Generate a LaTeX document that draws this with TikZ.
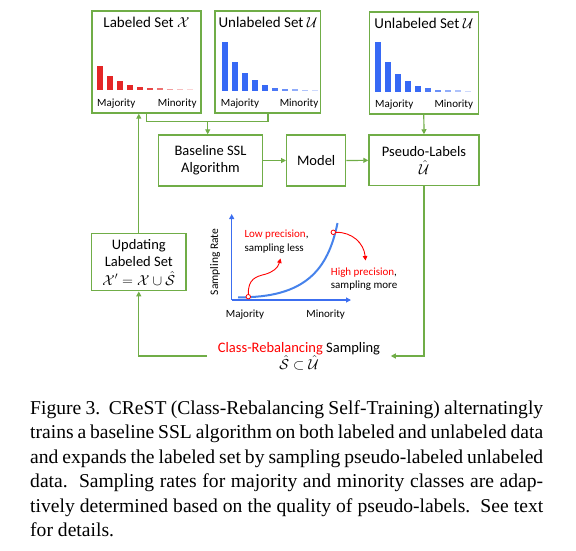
\documentclass[tikz,border=0pt]{standalone}
\usepackage{fontspec}
\setmainfont{Carlito}
\newfontfamily\capfont{Liberation Serif}
\usetikzlibrary{arrows.meta}
\definecolor{boxgreen}{RGB}{112,173,71}
\definecolor{barred}{RGB}{228,38,38}
\definecolor{barblue}{RGB}{55,105,245}
\definecolor{curveblue}{RGB}{70,130,235}
\definecolor{axisblue}{RGB}{60,110,240}
\begin{document}
\begin{tikzpicture}[x=1pt,y=-1pt,
  box/.style={draw=boxgreen,line width=1.4pt,inner sep=0pt},
  boxtext/.style={align=center,font=\fontsize{14.5}{17}\selectfont},
  garrow/.style={draw=boxgreen,line width=1.2pt,-{Triangle[length=5pt,width=5pt]}},
  gline/.style={draw=boxgreen,line width=1.2pt},
  ttl/.style={anchor=base,inner sep=0pt,font=\fontsize{15}{18}\selectfont},
  small/.style={inner sep=0pt,font=\fontsize{11}{13}\selectfont},
  axisline/.style={draw=axisblue,line width=1.1pt,-{Triangle[length=5pt,width=5pt]}},
  redarrow/.style={draw=red,line width=0.9pt,-{Triangle[length=4.5pt,width=4.5pt]}},
  dot/.style={circle,draw=red,fill=white,inner sep=0pt,minimum size=4.5pt,line width=0.8pt}]
\useasboundingbox (0,0) rectangle (576,550);

% ---- histogram boxes ----
\node[box,minimum width=109pt,minimum height=102pt] (lab) at (146.5,62) {};
\node[box,minimum width=105.7pt,minimum height=102pt] (unl) at (267.9,62) {};
\node[box,minimum width=109pt,minimum height=102pt] (unr) at (423.8,63) {};

\node[ttl] (labt) at (146.5,27) {Labeled Set $\mathcal{X}$};
\node[ttl] (unlt) at (267.9,27) {Unlabeled Set $\mathcal{U}$};
\node[ttl] (unrt) at (423.8,28) {Unlabeled Set $\mathcal{U}$};

\node[small,anchor=base west] (labmaj) at (97,106) {Majority};
\node[small,anchor=base east] (labmin) at (196.7,106) {Minority};
\node[small,anchor=base west] (unlmaj) at (220.7,106) {Majority};
\node[small,anchor=base east] (unlmin) at (318.5,106) {Minority};
\node[small,anchor=base west] (unrmaj) at (375,107) {Majority};
\node[small,anchor=base east] (unrmin) at (473.3,107) {Minority};

% bars
\foreach \h/\o [count=\i from 0] in {24.5/1,14.5/1,9/1,5/1,3/0.95,2.2/0.85,1.6/0.65,1.3/0.45,1.2/0.3,1.2/0.2}{
  \fill[barred,opacity=\o] (97.3+10*\i,90) rectangle ++(6,-\h);
}
\foreach \h/\o [count=\i from 0] in {49.3/1,29.3/1,17.7/1,10.8/1,6.2/1,3.4/0.9,2.2/0.75,1.6/0.55,1.3/0.4,1.2/0.25}{
  \fill[barblue,opacity=\o] (221.7+10*\i,91) rectangle ++(6,-\h);
  \fill[barblue,opacity=\o] (375+10*\i,91.7) rectangle ++(6,-\h);
}

% ---- middle row ----
\node[box,boxtext,minimum width=104.4pt,minimum height=51pt] (base) at (210.5,160.5) {Baseline SSL\\Algorithm};
\node[box,boxtext,minimum width=59pt,minimum height=51pt] (model) at (316.2,160.5) {Model};
\node[box,boxtext,minimum width=110pt,minimum height=50.7pt] (pseudo) at (424,160.3) {Pseudo-Labels\\[1pt]$\hat{\mathcal{U}}$};

% ---- updating box ----
\node[box,boxtext,font=\fontsize{14.5}{17.5}\selectfont,minimum width=94.3pt,minimum height=57.4pt] (upd) at (138.8,262) {Updating\\Labeled Set\\[1pt]$\mathcal{X}'=\mathcal{X}\cup\hat{\mathcal{S}}$};

% ---- sampling text ----
\node[align=center,inner xsep=10.5pt,inner ysep=0pt,font=\fontsize{14.5}{16.5}\selectfont] (crs) at (299,356) {\textcolor{red}{Class-Rebalancing} Sampling\\[1pt]$\hat{\mathcal{S}}\subset\hat{\mathcal{U}}$};

% ---- connectors ----
\coordinate (join) at (207.7,121.7);
\draw[gline] (lab.south) -- (lab.south |- join) -- (unl.south |- join) -- (unl.south);
\draw[garrow] (join) -- (join |- base.north);
\draw[garrow] (unr.south) -- (pseudo.north);
\draw[garrow] (base.east) -- (model.west);
\draw[garrow] (model.east) -- (pseudo.west);
\draw[garrow] (pseudo.south) -- (pseudo.south |- crs.east) -- (crs.east);
\draw[garrow] (crs.west) -- (upd.south |- crs.west) -- (upd.south);
\draw[garrow] (upd.north) -- (upd.north |- lab.south);

% ---- chart ----
\coordinate (orig) at (231.7,300);
\coordinate (ytop) at (231.7,214);
\coordinate (xend) at (351,300);
\draw[axisline] (orig) -- (ytop);
\draw[axisline] (orig) -- (xend);
\node[small,rotate=90,font=\fontsize{11.5}{13}\selectfont] (srate) at (215,262) {Sampling Rate};
\node[small,anchor=base] (cmaj) at (245,317.7) {Majority};
\node[small,anchor=base] (cmin) at (325.7,317.7) {Minority};

\coordinate (cs) at (238,297.3);
\coordinate (ce) at (337.5,223);
\draw[curveblue,line width=2pt] (cs) .. controls (305,298) and (328,270) .. (ce);

\node[dot] (lowc) at (248.3,296.7) {};
\node[dot] (highc) at (333.3,232.3) {};
\coordinate (lowend) at (280.5,258.5);
\coordinate (highend) at (365.5,260.5);
\draw[redarrow] (lowc.north) .. controls (248,279) and (256,276.5) .. (265,274.3) .. controls (273,272) and (278,268) .. (lowend);
\draw[redarrow] (highc.east) .. controls (352,232) and (364,243) .. (highend);

\node[small,anchor=base west] (lowt1) at (244.3,237.7) {\textcolor{red}{Low precision},};
\node[small,anchor=base west] (lowt2) at (244.3,251.7) {sampling less};
\node[small,anchor=base west] (hight1) at (330.7,275) {\textcolor{red}{High precision},};
\node[small,anchor=base west] (hight2) at (330.7,288.3) {sampling more};

% ---- caption ----
\node[anchor=base west,inner sep=0pt] (cap) at (30,414.5) {\parbox[t]{513pt}{\capfont\fontsize{19.6}{24.4}\selectfont\tolerance=10000\hyphenpenalty=10000
Figure 3.\ \ CReST (Class-Rebalancing Self-Training) alternatingly\linebreak
trains a baseline SSL algorithm on both labeled and unlabeled data\linebreak
and expands the labeled set by sampling pseudo-labeled unlabeled\linebreak
data.\ \ Sampling rates for majority and minority classes are adap-\linebreak
tively determined based on the quality of pseudo-labels.\ \ See text\linebreak
for details.}};
\end{tikzpicture}
\end{document}
